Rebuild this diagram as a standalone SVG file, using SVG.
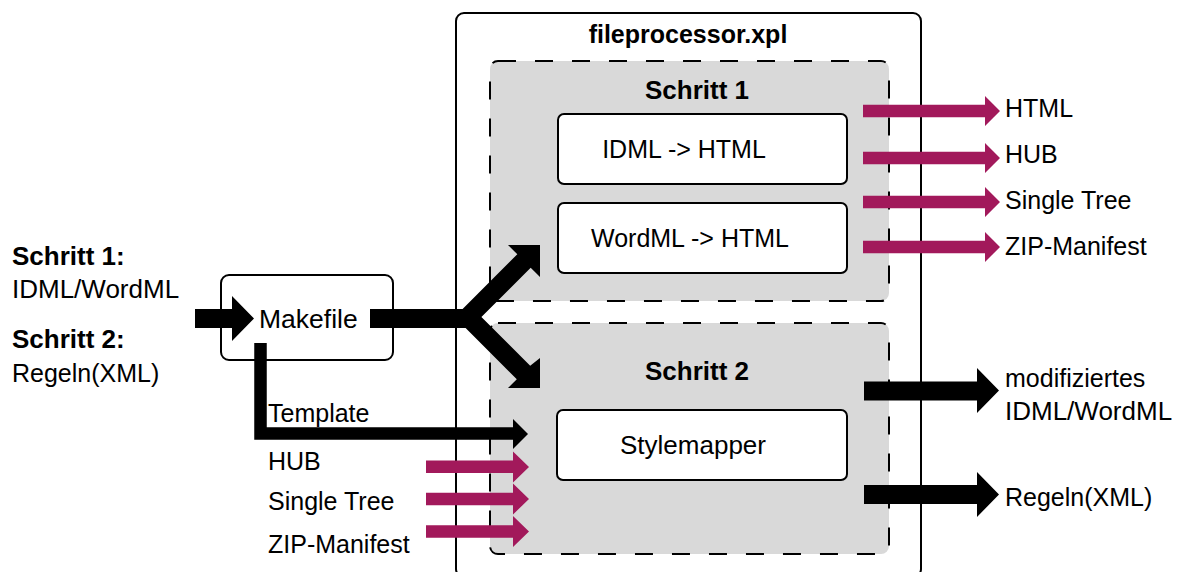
<svg xmlns="http://www.w3.org/2000/svg" width="1183" height="572" viewBox="0 0 1183 572">
<style>
text{font-family:"Liberation Sans",Arial,sans-serif;font-size:25px;fill:#000}
.b{font-weight:bold}
.c{text-anchor:middle}
.l{font-size:26px}
.outer{fill:#fff;stroke:#000;stroke-width:2}
.step{fill:#d9d9d9;stroke:#000;stroke-width:2;stroke-dasharray:18 19}
.box{fill:#fff;stroke:#000;stroke-width:2}
.mag{fill:#a2195b}
.blk{fill:#000}
</style>
<rect width="1183" height="572" fill="#fff"/>
<g id="fileprocessor">
<rect class="outer" x="456" y="13" width="465" height="564" rx="8"/>
<text class="b c" x="688" y="43">fileprocessor.xpl</text>
</g>
<g id="schritt1">
<rect class="step" x="490" y="61" width="399" height="240" rx="8"/>
<text class="b c l" x="697" y="99">Schritt 1</text>
</g>
<g id="schritt2">
<rect class="step" x="490" y="323" width="399" height="231" rx="8"/>
<text class="b c l" x="697" y="380">Schritt 2</text>
</g>
<g id="idml-html">
<rect class="box" x="558" y="114" width="289" height="70" rx="6"/>
<text class="c" x="684" y="158">IDML -&gt; HTML</text>
</g>
<g id="wordml-html">
<rect class="box" x="558" y="203" width="289" height="70" rx="6"/>
<text class="c" x="690" y="247">WordML -&gt; HTML</text>
</g>
<g id="stylemapper">
<rect class="box" x="557" y="410" width="290" height="70" rx="6"/>
<text class="c l" x="693" y="454">Stylemapper</text>
</g>
<g id="makefile">
<rect class="box" x="221" y="275" width="172" height="85" rx="8"/>
<text x="259" y="328" style="font-size:26.5px">Makefile</text>
</g>
<g id="input-labels">
<text class="b l" x="12" y="265">Schritt 1:</text>
<text class="l" x="12" y="298">IDML/WordML</text>
<text class="b l" x="12" y="348">Schritt 2:</text>
<text x="12" y="382">Regeln(XML)</text>
</g>
<g id="labels">
<text x="268" y="422">Template</text>
<text x="268" y="470">HUB</text>
<text x="268" y="510">Single Tree</text>
<text x="268" y="553">ZIP-Manifest</text>
<text x="1005" y="117">HTML</text>
<text x="1005" y="163">HUB</text>
<text x="1005" y="209">Single Tree</text>
<text x="1005" y="255">ZIP-Manifest</text>
<text x="1005" y="387">modifiziertes</text>
<text class="l" x="1005" y="420">IDML/WordML</text>
<text x="1005" y="506">Regeln(XML)</text>
</g>
<g id="connectors">
<polygon class="blk" points="195,309 232,309 232,296 254,318.5 232,341 232,328 195,328"/>
<polygon class="blk" points="370,309 462.6,309 517.3,254.3 508,245 540,245 540,277 530.7,267.7 481.4,317 530.2,365.8 540,358 540,388 508,388 516.8,379.2 465.6,328 370,328"/>
<path d="M260.5,343 V433.5 H514" fill="none" stroke="#000" stroke-width="12.5" stroke-linejoin="miter"/>
<polygon class="blk" points="513,419 528,434 513,449"/>
<g class="mag">
<polygon points="426,460.5 513,460.5 513,451.5 529,467 513,482.5 513,473 426,473"/>
<polygon points="426,492.8 513,492.8 513,483.5 529,499 513,514.5 513,505.3 426,505.3"/>
<polygon points="426,525.2 513,525.2 513,516 529,531.5 513,547 513,537.8 426,537.8"/>
</g>
<g class="mag">
<polygon points="863,104.8 985,104.8 985,96 1000,111 985,126 985,117.3 863,117.3"/>
<polygon points="863,151.8 985,151.8 985,143 1000,158 985,173 985,164.3 863,164.3"/>
<polygon points="863,195.8 985,195.8 985,187 1000,202 985,217 985,208.3 863,208.3"/>
<polygon points="863,240.8 985,240.8 985,232 1000,247 985,262 985,253.3 863,253.3"/>
</g>
<polygon class="blk" points="864,381.5 977,381.5 977,368 999,390.5 977,413 977,400.5 864,400.5"/>
<polygon class="blk" points="864,485 977,485 977,472 999,494.5 977,517 977,504 864,504"/>
</g>
</svg>
